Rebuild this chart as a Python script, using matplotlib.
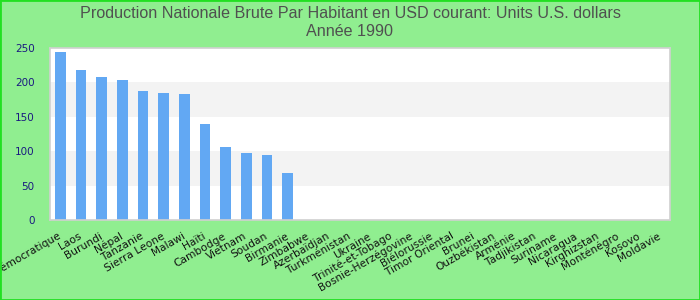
import matplotlib
matplotlib.use("Agg")
import matplotlib.pyplot as plt
from matplotlib.patches import Rectangle

categories = ["Congo, République Démocratique", "Laos", "Burundi", "Népal", "Tanzanie",
              "Sierra Leone", "Malawi", "Haïti", "Cambodge", "Vietnam", "Soudan",
              "Birmanie", "Zimbabwe", "Azerbaïdjan", "Turkménistan", "Ukraine",
              "Trinité-et-Tobago", "Bosnie-Herzégovine", "Biélorussie", "Timor Oriental",
              "Brunei", "Ouzbékistan", "Arménie", "Tadjikistan", "Suriname", "Nicaragua",
              "Kirghizstan", "Monténégro", "Kosovo", "Moldavie"]
values = [244.5, 218.5, 208.3, 204, 188, 185, 183.5, 140, 106.5, 97.7, 94.8, 68.5]

title_line1 = "Production Nationale Brute Par Habitant en USD courant: Units U.S. dollars"
title_line2 = "Année 1990"
yticks = [0, 50, 100, 150, 200, 250]

fig = plt.figure(figsize=(7, 3), dpi=100)
fig.patch.set_facecolor("#90ee90")
fig.patches.append(Rectangle((0, 0), 1, 1, transform=fig.transFigure, fill=False,
                             edgecolor="#22e022", linewidth=2, zorder=10))

ax = fig.add_axes([50/700, 80/300, 620/700, 172/300])
ax.set_facecolor("white")
n = len(categories)
ax.set_xlim(-0.5, n - 0.5)
ax.set_ylim(0, 250)

for lo, hi in [(50, 100), (150, 200)]:
    ax.axhspan(lo, hi, color="#f3f3f3", zorder=0, linewidth=0)

ax.bar(range(len(values)), values, width=0.53, color="#62a8f3", zorder=2)

for s in ax.spines.values():
    s.set_color("#d0d0d0")
    s.set_linewidth(1.2)

ax.set_yticks(yticks)
ax.set_yticklabels([str(v) for v in yticks], color="#1a1a80", fontsize=7.5)
ax.tick_params(axis="y", length=0, pad=11)
ax.set_xticks(range(n))
ax.set_xticklabels(categories, rotation=30, ha="right", va="center",
                   rotation_mode="anchor", fontsize=7.7, color="#111111")
ax.tick_params(axis="x", length=0, pad=11)

tfont = ["Liberation Sans", "DejaVu Sans"]
fig.text(0.5, 1 - 13/300, title_line1, ha="center", va="center", fontsize=11.6,
         color="#505050", family=tfont)
fig.text(0.5, 1 - 32/300, title_line2, ha="center", va="center", fontsize=11.6,
         color="#505050", family=tfont)

fig.savefig("out.png", dpi=100, facecolor=fig.get_facecolor())
